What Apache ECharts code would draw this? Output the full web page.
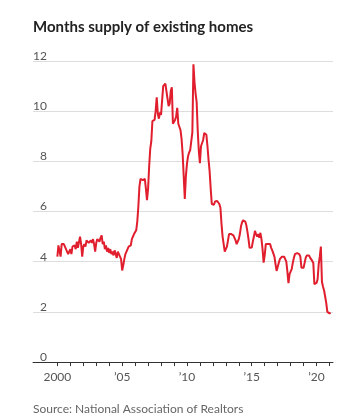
<!DOCTYPE html>
<html>
<head>
<meta charset="utf-8">
<style>
  html, body { margin: 0; padding: 0; background: #ffffff; }
  #chart { width: 344px; height: 419px; }
</style>
<script src="https://cdn.jsdelivr.net/npm/echarts@6/dist/echarts.min.js"></script>
</head>
<body>
<div id="chart"></div>
<script>
// Monthly months-supply values, Jan 2000 onward
var startYear = 2000;
var monthlySupply = [
  // 2000
  4.2, 4.65, 4.6, 4.2, 4.7, 4.65, 4.7, 4.6, 4.55, 4.4, 4.3, 4.35,
  // 2001
  4.5, 4.3, 4.6, 4.55, 4.65, 4.5, 4.8, 4.55, 4.5, 5.0, 4.7, 4.2,
  // 2002
  4.6, 4.7, 4.6, 4.85, 4.9, 4.75, 4.8, 4.85, 4.75, 4.9, 4.7, 4.4,
  // 2003
  4.75, 4.9, 4.85, 4.8, 4.95, 5.05, 4.7, 4.8, 4.5, 4.65, 4.4, 4.55,
  // 2004
  4.35, 4.5, 4.3, 4.4, 4.25, 4.45, 4.3, 4.15, 4.4, 4.35, 4.2, 4.1,
  // 2005
  3.65, 3.85, 4.1, 4.3, 4.4, 4.5, 4.6, 4.6, 4.65, 4.9, 4.95, 5.1,
  // 2006
  5.15, 5.25, 5.6, 6.2, 7.0, 7.3, 7.3, 7.25, 7.3, 7.3, 6.9, 6.45,
  // 2007
  6.9, 7.8, 8.5, 8.8, 9.6, 9.6, 9.65, 10.0, 10.55, 9.9, 9.7, 9.95,
  // 2008
  9.85, 9.9, 11.0, 11.05, 11.1, 11.05, 10.5, 10.2, 10.3, 10.8, 10.95, 9.5,
  // 2009
  9.5, 9.65, 9.8, 10.13, 9.5, 9.45, 9.25, 8.9, 8.3, 7.4, 6.5, 7.4,
  // 2010
  7.9, 8.2, 8.35, 8.45, 8.4, 9.15, 11.87, 11.15, 10.7, 10.35, 9.2, 8.4,
  // 2011
  7.93, 8.6, 8.6, 8.85, 9.13, 9.1, 9.06, 8.6, 8.06, 7.6, 6.9, 6.3,
  // 2012
  6.27, 6.27, 6.4, 6.47, 6.42, 6.4, 6.3, 6.15, 5.5, 5.0, 4.7, 4.4,
  // 2013
  4.36, 4.6, 4.85, 5.1, 5.1, 5.1, 5.05, 5.05, 5.0, 4.85, 4.7, 4.75,
  // 2014
  4.9, 5.1, 5.4, 5.56, 5.65, 5.7, 5.6, 5.45, 5.2, 4.9, 4.55, 4.5,
  // 2015
  4.56, 4.8, 5.0, 5.23, 5.1, 5.0, 5.1, 4.95, 5.15, 4.9, 4.5, 3.96,
  // 2016
  4.25, 4.7, 4.7, 4.7, 4.7, 4.7, 4.55, 4.45, 4.43, 4.2, 3.9, 3.63,
  // 2017
  3.7, 3.95, 4.1, 4.16, 4.2, 4.2, 4.2, 4.2, 4.0, 3.6, 3.14, 3.5,
  // 2018
  3.6, 3.7, 3.95, 4.15, 4.3, 4.32, 4.34, 4.36, 4.3, 4.2, 3.76, 3.74,
  // 2019
  3.76, 3.8, 4.16, 4.25, 4.3, 4.25, 4.16, 4.1, 4.03, 3.95, 3.1, 3.07,
  // 2020
  3.15, 3.3, 3.9, 4.2, 4.6, 3.2, 3.0, 2.85, 2.6, 2.35, 2.0, 1.94,
  // 2021
  1.94, 1.97
];
var xTickYears = [2000,2001,2002,2003,2004,2005,2006,2007,2008,2009,2010,2011,2012,2013,2014,2015,2016,2017,2018,2019,2020,2021];
var xLabelYears = [2000, 2005, 2010, 2015, 2020];
var xLabelTexts = ['2000', '\u201905', '\u201910', '\u201915', '\u201920'];
var yTickValues = [0, 2, 4, 6, 8, 10, 12];

var seriesData = monthlySupply.map(function (v, i) {
  return [startYear + i / 12, v];
});

var chart = echarts.init(document.getElementById('chart'), null, { renderer: 'canvas' });
var fontFam = 'Lato, "Open Sans", sans-serif';
chart.setOption({
  animation: false,
  backgroundColor: '#ffffff',
  title: [{
    text: 'Months supply of existing homes',
    left: 33, top: 20, padding: 0,
    textStyle: { fontFamily: fontFam, fontWeight: 'bold', fontSize: 15, color: '#222222' }
  }, {
    text: 'Source: National Association of Realtors',
    left: 33, top: 403, padding: 0,
    textStyle: { fontFamily: fontFam, fontWeight: 'normal', fontSize: 12, color: '#666666' }
  }],
  grid: { left: 33, right: 11, top: 61, bottom: 57, containLabel: false },
  xAxis: {
    type: 'value',
    min: 1998.12, max: 2021.27,
    axisLine: { show: true, lineStyle: { color: '#333333', width: 1 } },
    axisTick: { show: true, customValues: xTickYears, length: 4, lineStyle: { color: '#333333', width: 1 } },
    axisLabel: {
      customValues: xLabelYears,
      margin: 9,
      fontFamily: fontFam, fontSize: 12, color: '#555555',
      formatter: function (v) {
        var i = xLabelYears.indexOf(Math.round(v));
        return i >= 0 ? xLabelTexts[i] : '';
      }
    },
    splitLine: { show: false }
  },
  yAxis: {
    type: 'value',
    min: 0, max: 12, interval: 2,
    axisLine: { show: false },
    axisTick: { show: false },
    axisLabel: {
      customValues: yTickValues,
      margin: -14, align: 'right', verticalAlign: 'bottom',
      padding: [0, 0, -1, 0],
      fontFamily: fontFam, fontSize: 12, color: '#555555'
    },
    splitLine: { show: true, lineStyle: { color: '#dddddd', width: 1 } }
  },
  series: [{
    type: 'line',
    data: seriesData,
    showSymbol: false,
    symbol: 'none',
    lineStyle: { color: '#e01e2d', width: 2 },
    z: 3
  }]
});
</script>
</body>
</html>
